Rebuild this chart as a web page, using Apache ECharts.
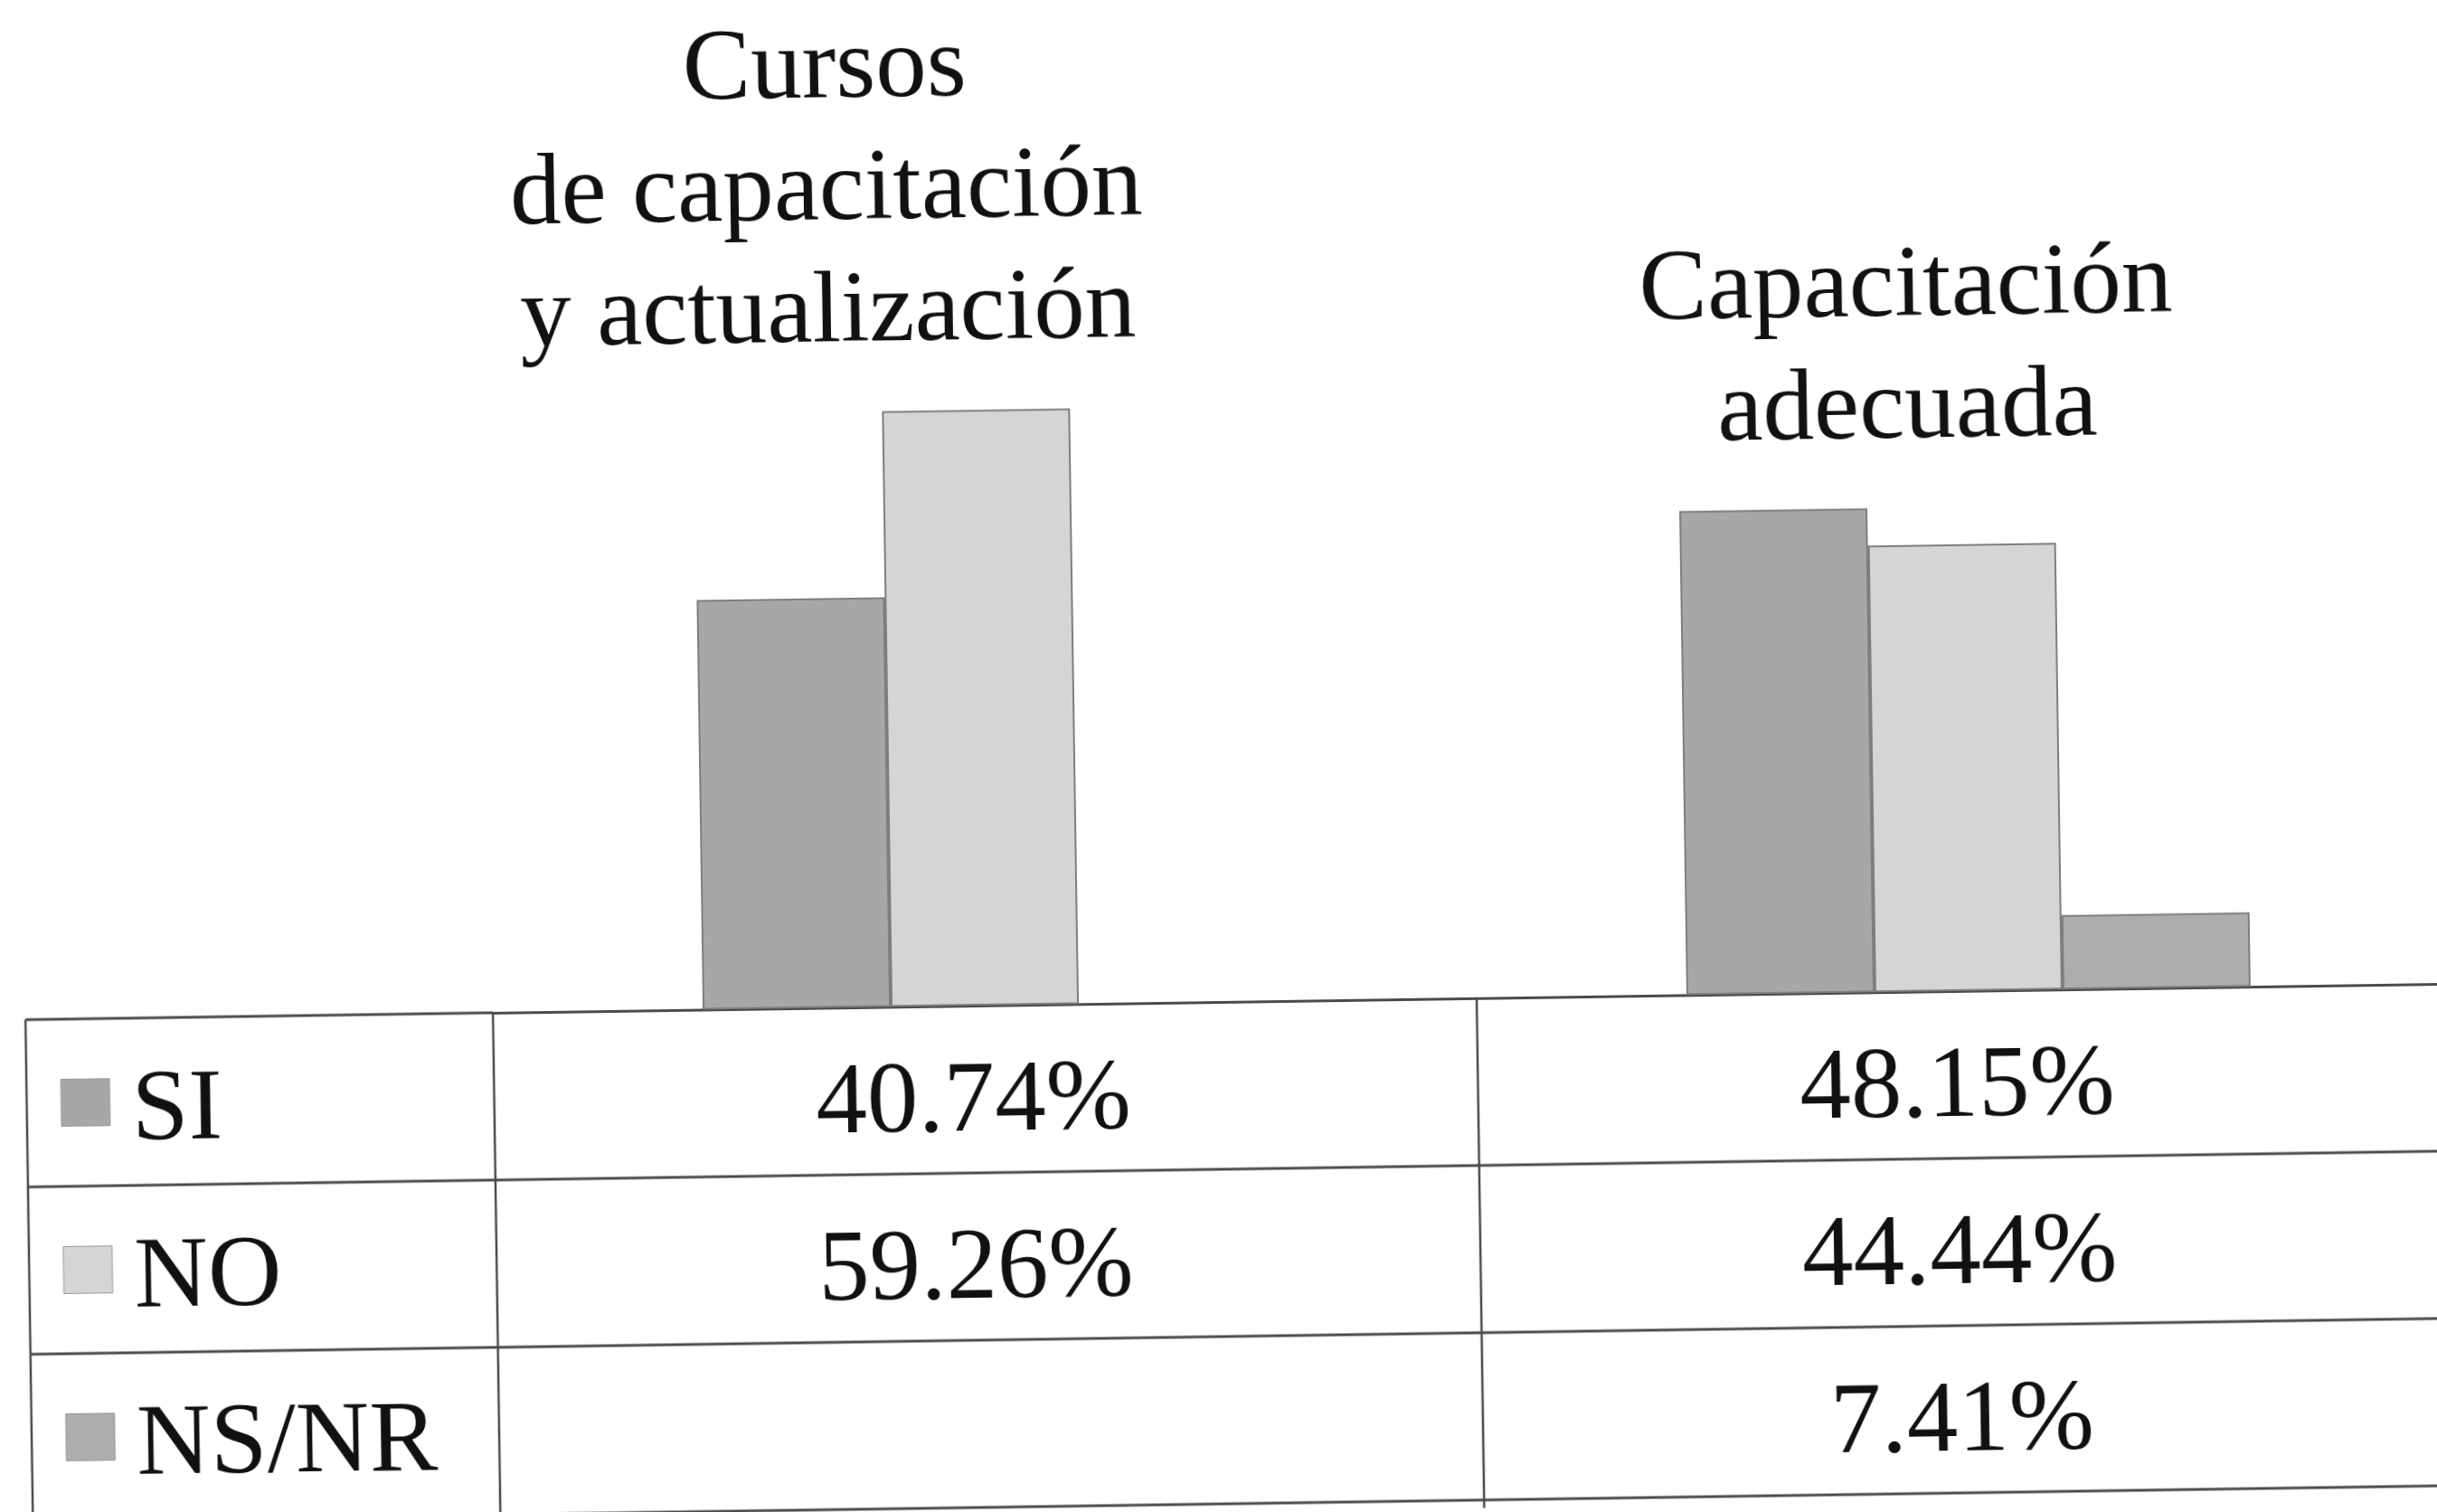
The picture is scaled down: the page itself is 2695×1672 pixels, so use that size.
<!DOCTYPE html>
<html>
<head>
<meta charset="utf-8">
<script src="https://cdn.jsdelivr.net/npm/echarts@6/dist/echarts.min.js"></script>
<style>
  html, body { margin: 0; padding: 0; background: #fff; overflow: hidden; }
  #chart { width: 2695px; height: 1672px; transform: rotate(-0.85deg); transform-origin: 50% 50%; }
</style>
</head>
<body>
<div id="chart"></div>
<script>
// data
var categories = ["Cursos\nde capacitación\ny actualización", "Capacitación\nadecuada"];
var seriesNames = ["SI", "NO", "NS/NR"];
var siValues = [40.74, 48.15];
var noValues = [59.26, 44.44];
var nsnrValues = [null, 7.41];

var seriesColors = ["#a7a7a7", "#d5d5d5", "#adadad"];
var allValues = [siValues, noValues, nsnrValues];

var FONT = "Liberation Serif";
var FONT_SIZE = 113;
var ROW_H = 185;
var BAR_W = 208;
var LINE = "#4a4a4a";

var chartDom = document.getElementById("chart");
var myChart = echarts.init(chartDom);

function fmt(v) {
  return v == null ? "" : v.toFixed(2) + "%";
}

var option = {
  animation: false,
  backgroundColor: "#fff",
  grid: { left: 541, right: -22, top: 441, bottom: 564, containLabel: false, outerBoundsMode: "none" },
  xAxis: {
    type: "category",
    data: categories,
    axisLine: { show: true, lineStyle: { color: LINE, width: 3 } },
    axisTick: { show: false },
    splitLine: { show: false },
    axisLabel: {
      interval: 0,
      margin: 16,
      padding: [0, 28, 0, 0],
      fontFamily: FONT,
      fontSize: FONT_SIZE,
      lineHeight: ROW_H,
      color: "#111",
      verticalAlign: "top",
      formatter: function (value, idx) {
        return allValues.map(function (arr) { return fmt(arr[idx]); }).join("\n");
      }
    }
  },
  yAxis: { type: "value", min: 0, max: 60, show: false },
  series: seriesNames.map(function (name, i) {
    return {
      name: name,
      type: "bar",
      data: allValues[i],
      barWidth: BAR_W,
      barGap: "0%",
      itemStyle: { color: seriesColors[i], borderColor: "#7e7e7e", borderWidth: 2 }
    };
  })
};

myChart.setOption(option);

// table lines, row labels and category titles, placed from the chart's own scales
function buildGraphics() {
  var base = myChart.convertToPixel({ yAxisIndex: 0 }, 0);
  var c0 = myChart.convertToPixel({ xAxisIndex: 0 }, 0);
  var c1 = myChart.convertToPixel({ xAxisIndex: 0 }, 1);
  var band = c1 - c0;
  var tableLeft = 24;
  var farRight = 2760;
  var bottom = base + ROW_H * 3 + 20;
  var els = [];

  // horizontal lines
  els.push({ type: "line", shape: { x1: tableLeft, y1: base, x2: c0 - band / 2, y2: base }, style: { stroke: LINE, lineWidth: 3 } });
  for (var r = 1; r <= 3; r++) {
    var y = base + ROW_H * r;
    els.push({ type: "line", shape: { x1: tableLeft, y1: y, x2: farRight, y2: y }, style: { stroke: LINE, lineWidth: 3 } });
  }
  // vertical lines
  var xs = [tableLeft, c0 - band / 2, c0 + band / 2];
  xs.forEach(function (x) {
    els.push({ type: "line", shape: { x1: x, y1: base, x2: x, y2: bottom }, style: { stroke: LINE, lineWidth: 2.5 } });
  });

  // legend rows
  seriesNames.forEach(function (name, i) {
    var mid = base + ROW_H * i + ROW_H / 2;
    els.push({ type: "rect", shape: { x: 62, y: mid - 26, width: 54, height: 52 }, style: { fill: seriesColors[i], stroke: "#999", lineWidth: 1 } });
    els.push({ type: "text", style: { text: name, x: 140, y: mid + 12, font: FONT_SIZE + "px '" + FONT + "'", fill: "#111", textAlign: "left", textVerticalAlign: "middle" } });
  });

  // category titles above the tallest bar of each group
  categories.forEach(function (cat, idx) {
    var centre = c0 + band * idx;
    var sum = 0, n = 0, maxV = 0;
    allValues.forEach(function (arr, i) {
      if (arr[idx] != null) {
        sum += centre + (i - 1) * BAR_W;
        n++;
        maxV = Math.max(maxV, arr[idx]);
      }
    });
    var topY = myChart.convertToPixel({ yAxisIndex: 0 }, maxV);
    els.push({
      type: "text",
      style: {
        text: cat,
        x: sum / n - 58,
        y: topY - 40,
        font: FONT_SIZE + "px '" + FONT + "'",
        lineHeight: 135,
        fill: "#111",
        textAlign: "center",
        textVerticalAlign: "bottom"
      }
    });
  });

  myChart.setOption({ graphic: els });
}

buildGraphics();
</script>
</body>
</html>
